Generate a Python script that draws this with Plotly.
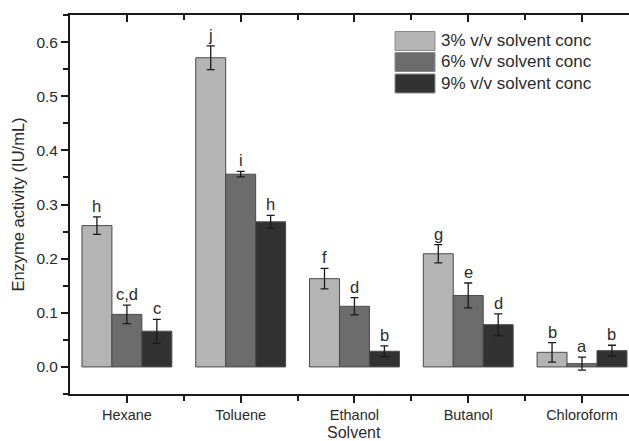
import plotly.graph_objects as go

# Enzyme activity (IU/mL) for each solvent at three solvent concentrations
solvents = ["Hexane", "Toluene", "Ethanol", "Butanol", "Chloroform"]
series_names = ["3% v/v solvent conc", "6% v/v solvent conc", "9% v/v solvent conc"]

activity_3 = [0.261, 0.571, 0.163, 0.209, 0.027]
activity_6 = [0.097, 0.356, 0.112, 0.132, 0.006]
activity_9 = [0.066, 0.268, 0.029, 0.078, 0.030]

error_3 = [0.016, 0.022, 0.019, 0.017, 0.018]
error_6 = [0.017, 0.005, 0.016, 0.023, 0.012]
error_9 = [0.022, 0.012, 0.010, 0.020, 0.010]

letters_3 = ["h", "j", "f", "g", "b"]
letters_6 = ["c,d", "i", "d", "e", "a"]
letters_9 = ["c", "h", "b", "d", "b"]

y_ticks = [0.0, 0.1, 0.2, 0.3, 0.4, 0.5, 0.6]

fill_colors = ["#b4b4b4", "#6c6c6c", "#323232"]
text_color = "#2b2b2b"
font_family = "Liberation Sans, Arial, sans-serif"

values = [activity_3, activity_6, activity_9]
errors = [error_3, error_6, error_9]
letters = [letters_3, letters_6, letters_9]

x_pos = list(range(len(solvents)))

fig = go.Figure()
for name, vals, errs, color in zip(series_names, values, errors, fill_colors):
    fig.add_trace(go.Bar(
        x=x_pos, y=vals, name=name,
        marker=dict(color=color, line=dict(color="#4a4a4a", width=1)),
        error_y=dict(type="data", array=errs, visible=True,
                     color="#1a1a1a", thickness=1.3, width=4),
        showlegend=False,
    ))

# empty trace that carries the mirrored top axis
fig.add_trace(go.Scatter(x=[], y=[], xaxis="x2", yaxis="y", showlegend=False))

# significance letters above each error bar, offset like grouped bars
group_frac = 0.79
bar_w = group_frac / 3
for s, (vals, errs, labs) in enumerate(zip(values, errors, letters)):
    off = (s - 1) * bar_w
    for i, (v, e, t) in enumerate(zip(vals, errs, labs)):
        fig.add_annotation(x=i + off, y=v + e, text=t, showarrow=False,
                           xref="x", yref="y", yanchor="bottom", yshift=0,
                           font=dict(size=16.5, color=text_color, family=font_family))

# plot-area geometry in pixels, used for the hand-drawn legend and axis title
W, H = 629, 441
L, T, B = 70, 15, 47
pw, ph = W - L, H - T - B


def px_x(x):
    return (x - L) / pw


def px_y(y):
    return (H - B - y) / ph


legend_rows = [(31.5, 50.5), (52.5, 71.5), (74, 93)]
for name, color, (y0, y1) in zip(series_names, fill_colors, legend_rows):
    fig.add_shape(type="rect", xref="paper", yref="paper",
                  x0=px_x(395), x1=px_x(435), y0=px_y(y1), y1=px_y(y0),
                  fillcolor=color, line=dict(color="#8a8a8a", width=1))
    fig.add_annotation(xref="paper", yref="paper", x=px_x(439), y=px_y((y0 + y1) / 2),
                       text=name, showarrow=False, xanchor="left", yanchor="middle",
                       font=dict(size=17, color=text_color, family=font_family))

# x-axis title sits at the very bottom of the figure
fig.add_annotation(xref="paper", yref="paper", x=px_x(354), y=px_y(443),
                   text="Solvent", showarrow=False, xanchor="center", yanchor="bottom",
                   font=dict(size=16, color=text_color, family=font_family))

x_range = [-0.5, 4.413]
axis_common = dict(showline=True, linecolor="#1a1a1a", linewidth=1.8,
                   showgrid=False, zeroline=False, tickcolor="#1a1a1a", tickwidth=1.5)

fig.update_layout(
    width=W, height=H,
    margin=dict(l=L, r=0, t=T, b=B, autoexpand=False),
    plot_bgcolor="white", paper_bgcolor="white",
    barmode="group", bargap=1 - group_frac, bargroupgap=0,
    font=dict(family=font_family, color=text_color),
    xaxis=dict(
        range=x_range, tickvals=x_pos, ticktext=solvents,
        ticks="outside", ticklen=7, ticklabelstandoff=0,
        minor=dict(tickvals=[0.5, 1.5, 2.5, 3.5], ticks="outside", ticklen=5,
                   tickcolor="#1a1a1a", tickwidth=1.5),
        tickfont=dict(size=14.5, color=text_color),
        automargin=False,
        **axis_common,
    ),
    xaxis2=dict(
        overlaying="x", side="top", matches="x", range=x_range,
        tickvals=x_pos, showticklabels=False, ticks="inside", ticklen=7,
        minor=dict(tickvals=[0.5, 1.5, 2.5, 3.5], ticks="inside", ticklen=5,
                   tickcolor="#1a1a1a", tickwidth=1.5),
        automargin=False,
        **axis_common,
    ),
    yaxis=dict(
        range=[-0.05, 0.65], tickvals=y_ticks,
        ticktext=[f"{v:.1f}" for v in y_ticks],
        ticks="outside", ticklen=7,
        minor=dict(dtick=0.05, tick0=0.05, ticks="outside", ticklen=5,
                   tickcolor="#1a1a1a", tickwidth=1.5),
        tickfont=dict(size=15.5, color=text_color),
        title=dict(text="Enzyme activity (IU/mL)", font=dict(size=16.5, color=text_color),
                   standoff=8),
        automargin=False,
        **axis_common,
    ),
)

fig.write_html("out.html")
